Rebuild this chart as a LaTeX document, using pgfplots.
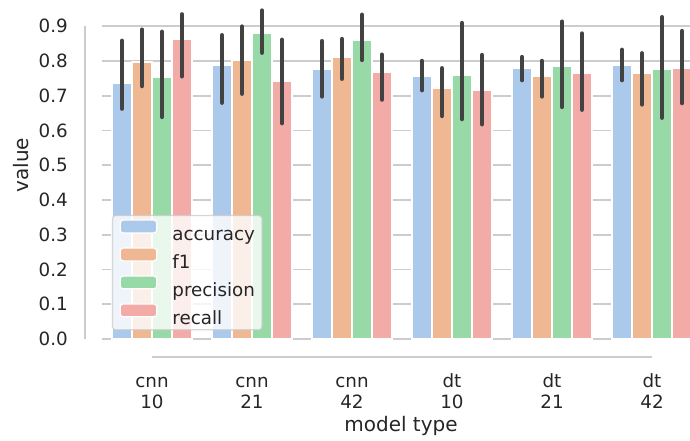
\documentclass[border=0pt]{standalone}
\usepackage{pgfplots}
\pgfplotsset{compat=1.18}
\usepackage{pgfplotstable}
\usepackage{fontspec}
\setmainfont{DejaVu Sans}

\definecolor{accC}{RGB}{171,201,234}
\definecolor{f1C}{RGB}{239,183,146}
\definecolor{preC}{RGB}{152,218,167}
\definecolor{recC}{RGB}{243,171,168}
\definecolor{errC}{RGB}{66,66,66}
\definecolor{gridC}{RGB}{204,204,204}
\definecolor{textC}{RGB}{38,38,38}

\pgfplotstableread{
x y lo hi
0 0.736 0.663 0.858
1 0.786 0.680 0.874
2 0.776 0.698 0.857
3 0.755 0.716 0.800
4 0.780 0.745 0.811
5 0.786 0.745 0.832
}\accuracy
\pgfplotstableread{
x y lo hi
0 0.797 0.728 0.890
1 0.801 0.706 0.899
2 0.810 0.749 0.863
3 0.721 0.642 0.779
4 0.756 0.698 0.800
5 0.763 0.675 0.822
}\fone
\pgfplotstableread{
x y lo hi
0 0.753 0.639 0.884
1 0.880 0.824 0.945
2 0.860 0.803 0.933
3 0.758 0.633 0.909
4 0.784 0.668 0.913
5 0.775 0.637 0.926
}\precision
\pgfplotstableread{
x y lo hi
0 0.862 0.756 0.934
1 0.740 0.621 0.861
2 0.768 0.689 0.818
3 0.715 0.618 0.817
4 0.764 0.660 0.879
5 0.779 0.679 0.886
}\recall

\pgfplotsset{
  errplot/.style={draw=none, mark=none, forget plot,
    error bars/y dir=both,
    error bars/y explicit,
    error bars/error mark=none,
    error bars/error bar style={errC, line width=4.5pt, line cap=round}},
  barplot/.style={ybar, bar width=0.2, bar shift=#1, draw=white, line width=1.2pt,
    legend image code/.code={\draw[##1, line width=1.2pt, draw=white, fill opacity=1, draw opacity=1] (0pt,0.6pt) rectangle (36.6pt,13.4pt);}},
}

\begin{document}
\begin{tikzpicture}
\begin{axis}[
  name=ax,
  at={(0,0)}, anchor=south west,
  scale only axis,
  width=588pt, height=339pt,
  xmin=-0.5, xmax=5.38,
  ymin=0, ymax=0.9755,
  clip=false,
  axis line style={draw=none},
  major tick length=0pt,
  ymajorgrids,
  major grid style={gridC, line width=1.67pt},
  ytick={0,0.1,0.2,0.3,0.4,0.5,0.6,0.7,0.8,0.9},
  /pgf/number format/.cd, fixed, fixed zerofill, precision=1, assume math mode=true,
  /pgfplots/.cd,
  xtick={0,1,2,3,4,5},
  xticklabels={{\strut cnn\\10},{\strut cnn\\21},{\strut cnn\\42},{\strut dt\\10},{\strut dt\\21},{\strut dt\\42}},
  tick label style={font=\fontsize{18.3}{21}\selectfont, text=textC, inner sep=0pt},
  xticklabel style={align=center, anchor=north, yshift=-33.3pt},
  yticklabel style={anchor=east, xshift=-34pt},
  xlabel={model type},
  ylabel={value},
  label style={font=\fontsize{20}{24}\selectfont, text=textC, inner sep=0pt},
  xlabel style={at={(axis description cs:0.5085,-0.2743)}, anchor=base},
  ylabel style={at={(axis description cs:-0.137,0.513)}, anchor=center},
  legend cell align=left,
  legend style={
    at={(axis description cs:0.017,0.366)}, anchor=north west,
    fill=white, fill opacity=0.8, draw=gridC, draw opacity=0.8, text opacity=1,
    rounded corners=3pt, line width=1.2pt,
    inner xsep=7pt, inner ysep=4pt,
    font=\fontsize{18.3}{22}\selectfont, text=textC,
    row sep=5.5pt,
    nodes={inner sep=0pt},
    /tikz/every odd column/.append style={column sep=15pt},
  },
]
\addplot[barplot=-0.3, fill=accC] table[x=x, y=y] {\accuracy};
\addlegendentry{\strut accuracy}
\addplot[barplot=-0.1, fill=f1C] table[x=x, y=y] {\fone};
\addlegendentry{\strut f1}
\addplot[barplot=0.1, fill=preC] table[x=x, y=y] {\precision};
\addlegendentry{\strut precision}
\addplot[barplot=0.3, fill=recC] table[x=x, y=y] {\recall};
\addlegendentry{\strut recall}
\addplot[errplot] table[x expr=\thisrow{x}-0.3, y=y, y error plus expr=\thisrow{hi}-\thisrow{y}, y error minus expr=\thisrow{y}-\thisrow{lo}] {\accuracy};
\addplot[errplot] table[x expr=\thisrow{x}-0.1, y=y, y error plus expr=\thisrow{hi}-\thisrow{y}, y error minus expr=\thisrow{y}-\thisrow{lo}] {\fone};
\addplot[errplot] table[x expr=\thisrow{x}+0.1, y=y, y error plus expr=\thisrow{hi}-\thisrow{y}, y error minus expr=\thisrow{y}-\thisrow{lo}] {\precision};
\addplot[errplot] table[x expr=\thisrow{x}+0.3, y=y, y error plus expr=\thisrow{hi}-\thisrow{y}, y error minus expr=\thisrow{y}-\thisrow{lo}] {\recall};
\draw[gridC, line width=2pt] (axis cs:-0.67,0) -- (axis cs:-0.67,0.9);
\draw[gridC, line width=2pt] (axis cs:0,-0.0518) -- (axis cs:5,-0.0518);
\end{axis}
\pgfresetboundingbox
\path (ax.south west) ++(-102pt,-102pt) rectangle ++(690pt,441pt);
\end{tikzpicture}
\end{document}
